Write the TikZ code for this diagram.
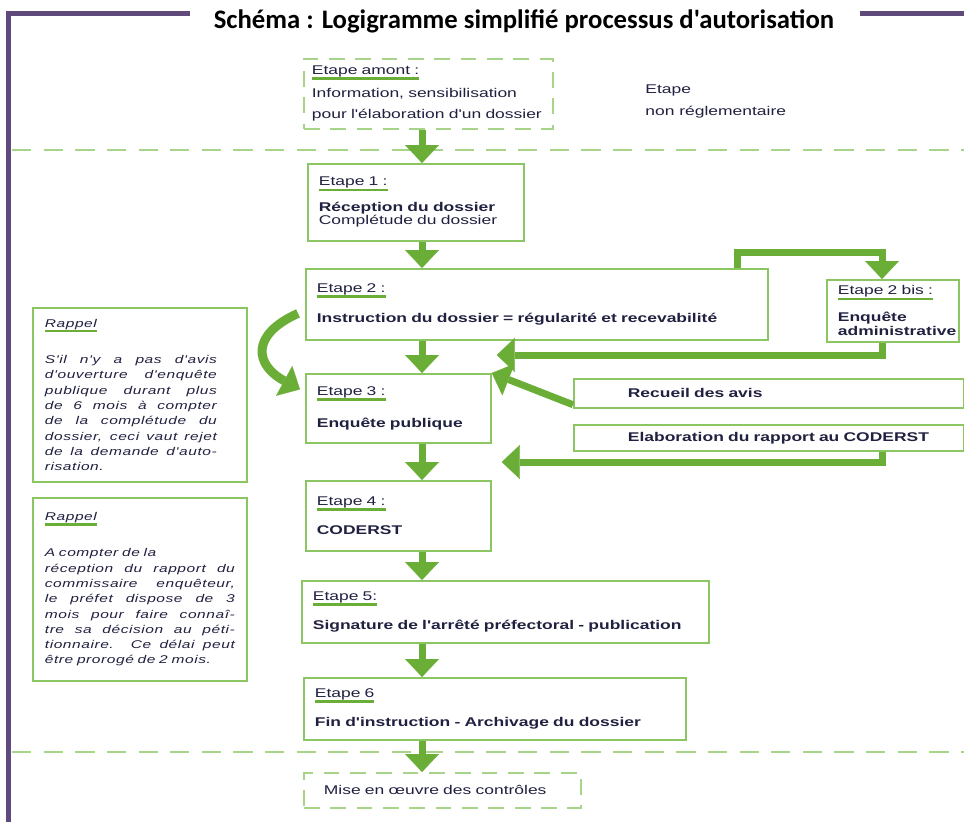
\documentclass[tikz,border=0pt]{standalone}
\usepackage{fontspec}
\usetikzlibrary{arrows.meta,calc}
\newfontfamily\titlefont{Carlito}
\newfontfamily\diagfont[FakeStretch=1.38]{Liberation Sans}
\newfontfamily\notefont[FakeStretch=1.38, LetterSpace=5]{Liberation Sans}

\definecolor{framepurple}{RGB}{96,74,123}
\definecolor{arrowgreen}{RGB}{107,174,55}
\definecolor{boxgreen}{RGB}{140,198,98}
\definecolor{dashgreen}{RGB}{168,212,138}
\definecolor{inknavy}{RGB}{32,32,64}

\newlength\labw
\newcommand{\steplabel}[1]{\settowidth{\labw}{#1}%
  \makebox[0pt][l]{\textcolor{arrowgreen}{\rule[-3pt]{\labw}{1.5pt}}}#1}
\newcommand{\jline}[2]{{\spaceskip=0pt\xspaceskip=0pt\makebox[#1][s]{#2}}}

\begin{document}
\begin{tikzpicture}[
    stepbox/.style={draw=boxgreen, line width=1pt, anchor=north west,
      align=left, inner xsep=0.22cm, inner ysep=0pt, text=inknavy,
      font={\diagfont\fontsize{7.2}{7.9}\selectfont}},
    dashbox/.style={stepbox, draw=dashgreen, dash pattern=on 9pt off 6pt},
    notebox/.style={stepbox, inner xsep=0.24cm, text width=3.8cm,
      font={\notefont\itshape\fontsize{6.4}{8.7}\selectfont}},
    flow/.style={draw=arrowgreen, line width=0.14cm,
      -{Triangle[width=0.68cm, length=0.36cm, line width=0.1pt]}},
    sepline/.style={draw=dashgreen, line width=1pt, dash pattern=on 11pt off 7pt},
  ]
  \useasboundingbox (0,0) rectangle (19.28,-16.42);

  % frame and title
  \draw[framepurple, line width=0.1cm] (3.8,-0.26) -- (0.18,-0.26) -- (0.18,-16.6);
  \draw[framepurple, line width=0.1cm] (17.2,-0.26) -- (19.4,-0.26);
  \node[font={\titlefont\bfseries\fontsize{15.2}{17}\selectfont}] (title)
    at (10.48,-0.42) {Schéma : Logigramme simplifié processus d'autorisation};

  % dashed separators
  \draw[sepline] (0.24,-3.0) -- (19.28,-3.0);
  \draw[sepline] (0.24,-15.04) -- (19.28,-15.04);

  %%%% main column
  \node[dashbox, inner xsep=0.16cm, text width=4.66cm, minimum height=1.4cm] (amont) at (6.06,-1.16)
    {\steplabel{Etape amont :}\\[3.5pt]Information, sensibilisation\\[4.5pt]pour l'élaboration d'un dossier};
  \node[anchor=north west, align=left, inner sep=0pt, text=inknavy,
    font={\diagfont\fontsize{7.2}{7.9}\selectfont}] (nonreg) at (12.9,-1.68)
    {Etape\\[4.6pt]non réglementaire};

  \node[stepbox, text width=3.88cm, minimum height=1.54cm] (e1) at (6.14,-3.26)
    {\steplabel{Etape 1 :}\\[5pt]\textbf{Réception du dossier}\\Complétude du dossier};
  \node[stepbox, text width=8.8cm, minimum height=1.42cm] (e2) at (6.10,-5.36)
    {\steplabel{Etape 2 :}\\[7.5pt]\textbf{Instruction du dossier = régularité et recevabilité}};
  \node[stepbox, text width=2.2cm, minimum height=1.24cm] (e2b) at (16.52,-5.58)
    {\steplabel{Etape 2 bis :}\\[6pt]\textbf{Enquête}\\\textbf{administrative}};
  \node[stepbox, text width=3.26cm, minimum height=1.38cm] (e3) at (6.10,-7.46)
    {\steplabel{Etape 3 :}\\[9pt]\textbf{Enquête publique}};
  \node[stepbox, text width=7.36cm, minimum height=0.58cm] (avis) at (11.46,-7.56)
    {\hspace*{0.86cm}\textbf{Recueil des avis}};
  \node[stepbox, text width=7.36cm, minimum height=0.52cm] (rapp) at (11.46,-8.48)
    {\hspace*{0.86cm}\textbf{Elaboration du rapport au CODERST}};
  \node[stepbox, text width=3.26cm, minimum height=1.4cm] (e4) at (6.10,-9.60)
    {\steplabel{Etape 4 :}\\[7.5pt]\textbf{CODERST}};
  \node[stepbox, text width=7.7cm, minimum height=1.24cm] (e5) at (6.02,-11.60)
    {\steplabel{Etape 5:}\\[7pt]\textbf{Signature de l'arrêté préfectoral - publication}};
  \node[stepbox, text width=7.2cm, minimum height=1.24cm] (e6) at (6.06,-13.54)
    {\steplabel{Etape 6}\\[7.5pt]\textbf{Fin d'instruction - Archivage du dossier}};
  \node[dashbox, text width=5.1cm, minimum height=0.7cm] (mise) at (6.06,-15.44)
    {\hspace*{0.18cm}Mise en œuvre des contrôles};

  %%%% reminders
  \node[notebox, minimum height=3.48cm] (rappel1) at (0.64,-6.14)
    {\steplabel{Rappel}\\[12pt]
     \jline{3.44cm}{S'il n'y a pas d'avis}\\
     \jline{3.44cm}{d'ouverture d'enquête}\\
     \jline{3.44cm}{publique durant plus}\\
     \jline{3.44cm}{de 6 mois à compter}\\
     \jline{3.44cm}{de la complétude du}\\
     \jline{3.44cm}{dossier, ceci vaut rejet}\\
     \jline{3.44cm}{de la demande d'auto-}\\
     risation.};
  \node[notebox, minimum height=3.66cm] (rappel2) at (0.64,-9.94)
    {\steplabel{Rappel}\\[12pt]
     A compter de la\\
     \jline{3.8cm}{réception du rapport du}\\
     \jline{3.8cm}{commissaire enquêteur,}\\
     \jline{3.8cm}{le préfet dispose de 3}\\
     \jline{3.8cm}{mois pour faire connaî-}\\
     \jline{3.8cm}{tre sa décision au péti-}\\
     \jline{3.8cm}{tionnaire. Ce délai peut}\\
     être prorogé de 2 mois.};

  %%%% arrows
  \coordinate (spine) at (8.44,0);
  \coordinate (sidex) at (17.64,0);
  \coordinate (branchx) at (14.74,0);
  \foreach \a/\b in {amont/e1, e1/e2, e2/e3, e3/e4, e4/e5, e5/e6, e6/mise}
    \draw[flow] (\a.south -| spine) -- (\b.north -| spine);

  \draw[flow] (e2.north -| branchx) -- ++(0,0.32) -| (e2b.north -| sidex);
  \draw[flow] (e2b.south -| sidex) |- ($(e3.north east)+(0.1,0.36)$);
  \draw[flow] ($(avis.south west)+(0,0.08)$) -- (e3.north east);
  \draw[flow] (rapp.south -| sidex) |- ($(e4.north east)+(0.2,0.36)$);
  \draw[flow, line width=0.18cm] ($(e2.west)+(-0.14,-0.18)$) .. controls (5.0,-6.7) and (5.1,-7.3)
    .. ($(e3.west)+(-0.1,0.38)$);
\end{tikzpicture}
\end{document}
